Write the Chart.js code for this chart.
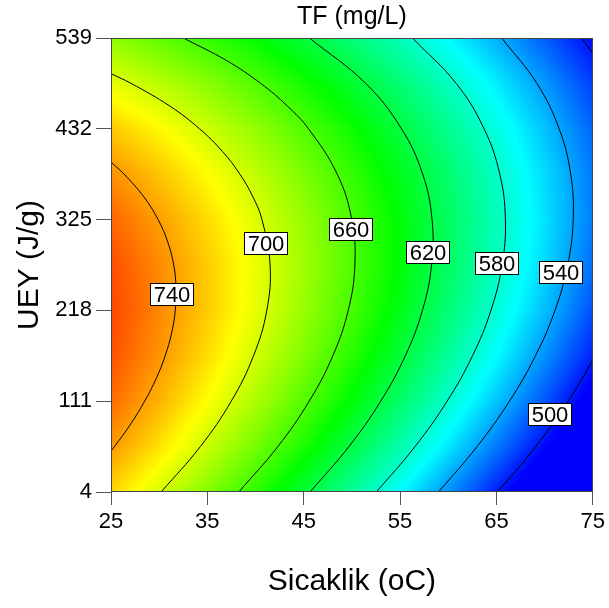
<!DOCTYPE html>
<html>
<head>
<meta charset="utf-8">
<title>TF (mg/L)</title>
<script src="https://cdn.jsdelivr.net/npm/chart.js@4/dist/chart.umd.min.js"></script>
<style>
  html, body { margin: 0; padding: 0; background: #ffffff; }
  #wrap { width: 609px; height: 608px; }
</style>
</head>
<body>
<div id="wrap"><canvas id="tfChart" width="609" height="608"></canvas></div>
<script>
// Axis ticks
const xTicks = [25, 35, 45, 55, 65, 75];
const yTicks = [4, 111, 218, 325, 432, 539];

// Response surface: TF (mg/L) over temperature (columns) and UEY (rows)
const tempGrid = [25, 30, 35, 40, 45, 50, 55, 60, 65, 70, 75];
const ueyGrid = [4, 57.5, 111, 164.5, 218, 271.5, 325, 378.5, 432, 485.5, 539];
const tfGrid = [
  [723.8, 700.9, 676.6, 650.9, 623.7, 595.1, 565.0, 533.5, 500.6, 466.2, 430.4],
  [741.5, 719.8, 696.5, 671.9, 645.8, 618.3, 589.3, 558.9, 527.0, 493.8, 459.0],
  [754.3, 733.6, 711.5, 687.9, 662.9, 636.5, 608.6, 579.3, 548.5, 516.3, 482.7],
  [762.1, 742.5, 721.5, 699.0, 675.1, 649.8, 623.0, 594.8, 565.1, 534.0, 501.4],
  [765.0, 746.5, 726.6, 705.2, 682.4, 658.1, 632.4, 605.3, 576.7, 546.7, 515.2],
  [763.0, 745.5, 726.7, 706.4, 684.7, 661.5, 636.9, 610.8, 583.4, 554.4, 524.1],
  [756.0, 739.6, 721.9, 702.7, 682.0, 660.0, 636.4, 611.5, 585.1, 557.2, 528.0],
  [744.0, 728.8, 712.1, 694.0, 674.4, 653.5, 631.0, 607.2, 581.8, 555.1, 526.9],
  [727.1, 713.0, 697.4, 680.4, 661.9, 642.0, 620.7, 597.9, 573.7, 548.0, 520.9],
  [705.3, 692.2, 677.7, 661.8, 644.4, 625.6, 605.4, 583.7, 560.6, 536.0, 510.0],
  [678.5, 666.5, 653.1, 638.3, 622.0, 604.3, 585.1, 564.5, 542.5, 519.0, 494.1]
];

// Contour lines as [temperature, UEY] points
const contour740 = [[25, 392.7], [26.36, 378.5], [28.41, 351.75], [29.89, 325], [30.90, 298.25], [31.51, 271.5], [31.75, 244.75], [31.67, 218], [31.29, 191.25], [30.62, 164.5], [29.69, 137.75], [28.49, 111], [27.05, 84.25], [25.36, 57.5], [25, 52.3]];
const contour700 = [[25, 496.9], [27.09, 485.5], [31.11, 458.75], [34.19, 432], [36.57, 405.25], [38.38, 378.5], [39.73, 351.75], [40.67, 325], [41.51, 271.5], [41.17, 218], [39.79, 164.5], [37.48, 111], [34.27, 57.5], [30.20, 4]];
const contour660 = [[32.51, 539], [37.02, 512.25], [40.54, 485.5], [43.31, 458.75], [45.50, 432], [48.48, 378.5], [49.99, 325], [50.31, 271.5], [49.62, 218], [48.02, 164.5], [45.57, 111], [42.31, 57.5], [38.26, 4]];
const contour620 = [[45.59, 539], [51.43, 485.5], [55.15, 432], [57.35, 378.5], [58.32, 325], [58.27, 271.5], [57.32, 218], [55.54, 164.5], [52.99, 111], [49.69, 57.5], [45.66, 4]];
const contour580 = [[56.28, 539], [60.82, 485.5], [63.72, 432], [65.35, 378.5], [65.93, 325], [65.59, 271.5], [64.43, 218], [62.52, 164.5], [59.88, 111], [56.55, 57.5], [52.54, 4]];
const contour540 = [[65.55, 539], [69.20, 485.5], [71.51, 432], [72.71, 378.5], [72.97, 325], [72.40, 271.5], [71.08, 218], [69.05, 164.5], [66.35, 111], [62.99, 57.5], [58.99, 4]];
const contour500 = [[65.09, 4], [67.16, 30.75], [69.08, 57.5], [70.84, 84.25], [72.45, 111], [73.91, 137.75], [75, 159.9]];
const contour500Corner = [[73.84, 539], [75, 521]];

// Contour labels: text and [temperature, UEY] anchor
const labelTexts = ['740', '700', '660', '620', '580', '540', '500'];
const labelAnchors = [[31.31, 236.1], [41.08, 296.0], [49.92, 312.7], [57.95, 286.0], [65.11, 273.0], [71.72, 262.1], [70.52, 95.1]];

// Colour scale: blue -> cyan -> green -> yellow -> red
const colorStops = [492, 565.25, 638.5, 711.75, 785];
const stopColors = [[0, 0, 255], [0, 255, 255], [0, 255, 0], [255, 255, 0], [255, 0, 0]];

const FONT = "'Liberation Sans', Arial, Helvetica, sans-serif";

function colorFor(v) {
  if (v <= colorStops[0]) return stopColors[0];
  const n = colorStops.length - 1;
  if (v >= colorStops[n]) return stopColors[n];
  let k = 0;
  while (k < n - 1 && v > colorStops[k + 1]) k++;
  const f = (v - colorStops[k]) / (colorStops[k + 1] - colorStops[k]);
  const a = stopColors[k], b = stopColors[k + 1];
  return [a[0] + (b[0] - a[0]) * f, a[1] + (b[1] - a[1]) * f, a[2] + (b[2] - a[2]) * f];
}

function cellIndex(arr, v) {
  let i = 0;
  while (i < arr.length - 2 && v > arr[i + 1]) i++;
  let f = (v - arr[i]) / (arr[i + 1] - arr[i]);
  f = Math.max(0, Math.min(1, f));
  return [i, f];
}

function surfaceValue(t, u) {
  const [i, fx] = cellIndex(tempGrid, t);
  const [j, fy] = cellIndex(ueyGrid, u);
  const v00 = tfGrid[j][i], v10 = tfGrid[j][i + 1];
  const v01 = tfGrid[j + 1][i], v11 = tfGrid[j + 1][i + 1];
  return (v00 * (1 - fx) + v10 * fx) * (1 - fy) + (v01 * (1 - fx) + v11 * fx) * fy;
}

// Filled colour field behind the contour lines
const surfacePlugin = {
  id: 'surface',
  beforeDatasetsDraw(chart) {
    const { ctx, chartArea: area, scales: { x, y } } = chart;
    const left = Math.round(area.left), top = Math.round(area.top);
    const w = Math.round(area.right) - left, h = Math.round(area.bottom) - top;
    const img = ctx.createImageData(w, h);
    for (let j = 0; j < h; j++) {
      const u = y.getValueForPixel(top + j + 0.5);
      for (let i = 0; i < w; i++) {
        const t = x.getValueForPixel(left + i + 0.5);
        const c = colorFor(surfaceValue(t, u));
        const p = (j * w + i) * 4;
        img.data[p] = c[0];
        img.data[p + 1] = c[1];
        img.data[p + 2] = c[2];
        img.data[p + 3] = 255;
      }
    }
    ctx.putImageData(img, left, top);
  }
};

// Plot frame and boxed contour labels
const overlayPlugin = {
  id: 'overlay',
  afterDatasetsDraw(chart) {
    const { ctx, chartArea: area, scales: { x, y } } = chart;
    ctx.save();
    ctx.strokeStyle = '#444444';
    ctx.lineWidth = 1;
    ctx.strokeRect(Math.round(area.left) + 0.5, Math.round(area.top) + 0.5,
      Math.round(area.right - area.left) - 1, Math.round(area.bottom - area.top) - 1);

    ctx.font = '22px ' + FONT;
    ctx.textAlign = 'center';
    ctx.textBaseline = 'middle';
    labelTexts.forEach((txt, k) => {
      const cx = Math.round(x.getPixelForValue(labelAnchors[k][0]));
      const cy = Math.round(y.getPixelForValue(labelAnchors[k][1]));
      const bw = Math.round(ctx.measureText(txt).width) + 7;
      const bh = 23;
      const bx = cx - Math.round(bw / 2), by = cy - Math.round(bh / 2);
      ctx.fillStyle = '#ffffff';
      ctx.fillRect(bx, by, bw, bh);
      ctx.strokeStyle = '#000000';
      ctx.strokeRect(bx + 0.5, by + 0.5, bw - 1, bh - 1);
      ctx.fillStyle = '#000000';
      ctx.fillText(txt, cx, cy + 1);
    });
    ctx.restore();
  }
};

const lineSets = [contour740, contour700, contour660, contour620, contour580, contour540, contour500, contour500Corner];
const lineNames = ['740', '700', '660', '620', '580', '540', '500', '500'];

new Chart(document.getElementById('tfChart'), {
  type: 'scatter',
  data: {
    datasets: lineSets.map((pts, k) => ({
      label: lineNames[k],
      data: pts.map(p => ({ x: p[0], y: p[1] })),
      showLine: true,
      pointRadius: 0,
      borderColor: '#000000',
      borderWidth: 1,
      tension: 0.4,
      fill: false
    }))
  },
  options: {
    responsive: false,
    animation: false,
    devicePixelRatio: 1,
    layout: { padding: { left: 0, right: 15, top: 0, bottom: 0 } },
    plugins: {
      legend: { display: false },
      tooltip: { enabled: false },
      title: {
        display: true,
        text: 'TF (mg/L)',
        fullSize: false,
        color: '#000000',
        font: { family: FONT, size: 25, weight: 'normal' },
        padding: { top: 2, bottom: 6 }
      }
    },
    scales: {
      x: {
        type: 'linear',
        min: 25,
        max: 75,
        afterBuildTicks: s => { s.ticks = xTicks.map(v => ({ value: v })); },
        afterFit: s => { s.height = 116; },
        border: { display: false },
        grid: { drawOnChartArea: false, drawTicks: true, tickLength: 13, color: '#555555', lineWidth: 1 },
        ticks: { color: '#000000', font: { family: FONT, size: 22 }, padding: 4, maxRotation: 0, autoSkip: false },
        title: {
          display: true,
          text: 'Sicaklik (oC)',
          color: '#000000',
          font: { family: FONT, size: 30, weight: 'normal' },
          padding: { top: 0, bottom: 8 }
        }
      },
      y: {
        type: 'linear',
        min: 4,
        max: 539,
        afterBuildTicks: s => { s.ticks = yTicks.map(v => ({ value: v })); },
        afterFit: s => { s.width = 111; },
        border: { display: false },
        grid: { drawOnChartArea: false, drawTicks: true, tickLength: 15, color: '#555555', lineWidth: 1 },
        ticks: { color: '#000000', font: { family: FONT, size: 22 }, padding: 4, autoSkip: false },
        title: {
          display: true,
          text: 'UEY (J/g)',
          color: '#000000',
          font: { family: FONT, size: 30, weight: 'normal' },
          padding: { top: 12, bottom: 0 }
        }
      }
    }
  },
  plugins: [surfacePlugin, overlayPlugin]
});
</script>
</body>
</html>
